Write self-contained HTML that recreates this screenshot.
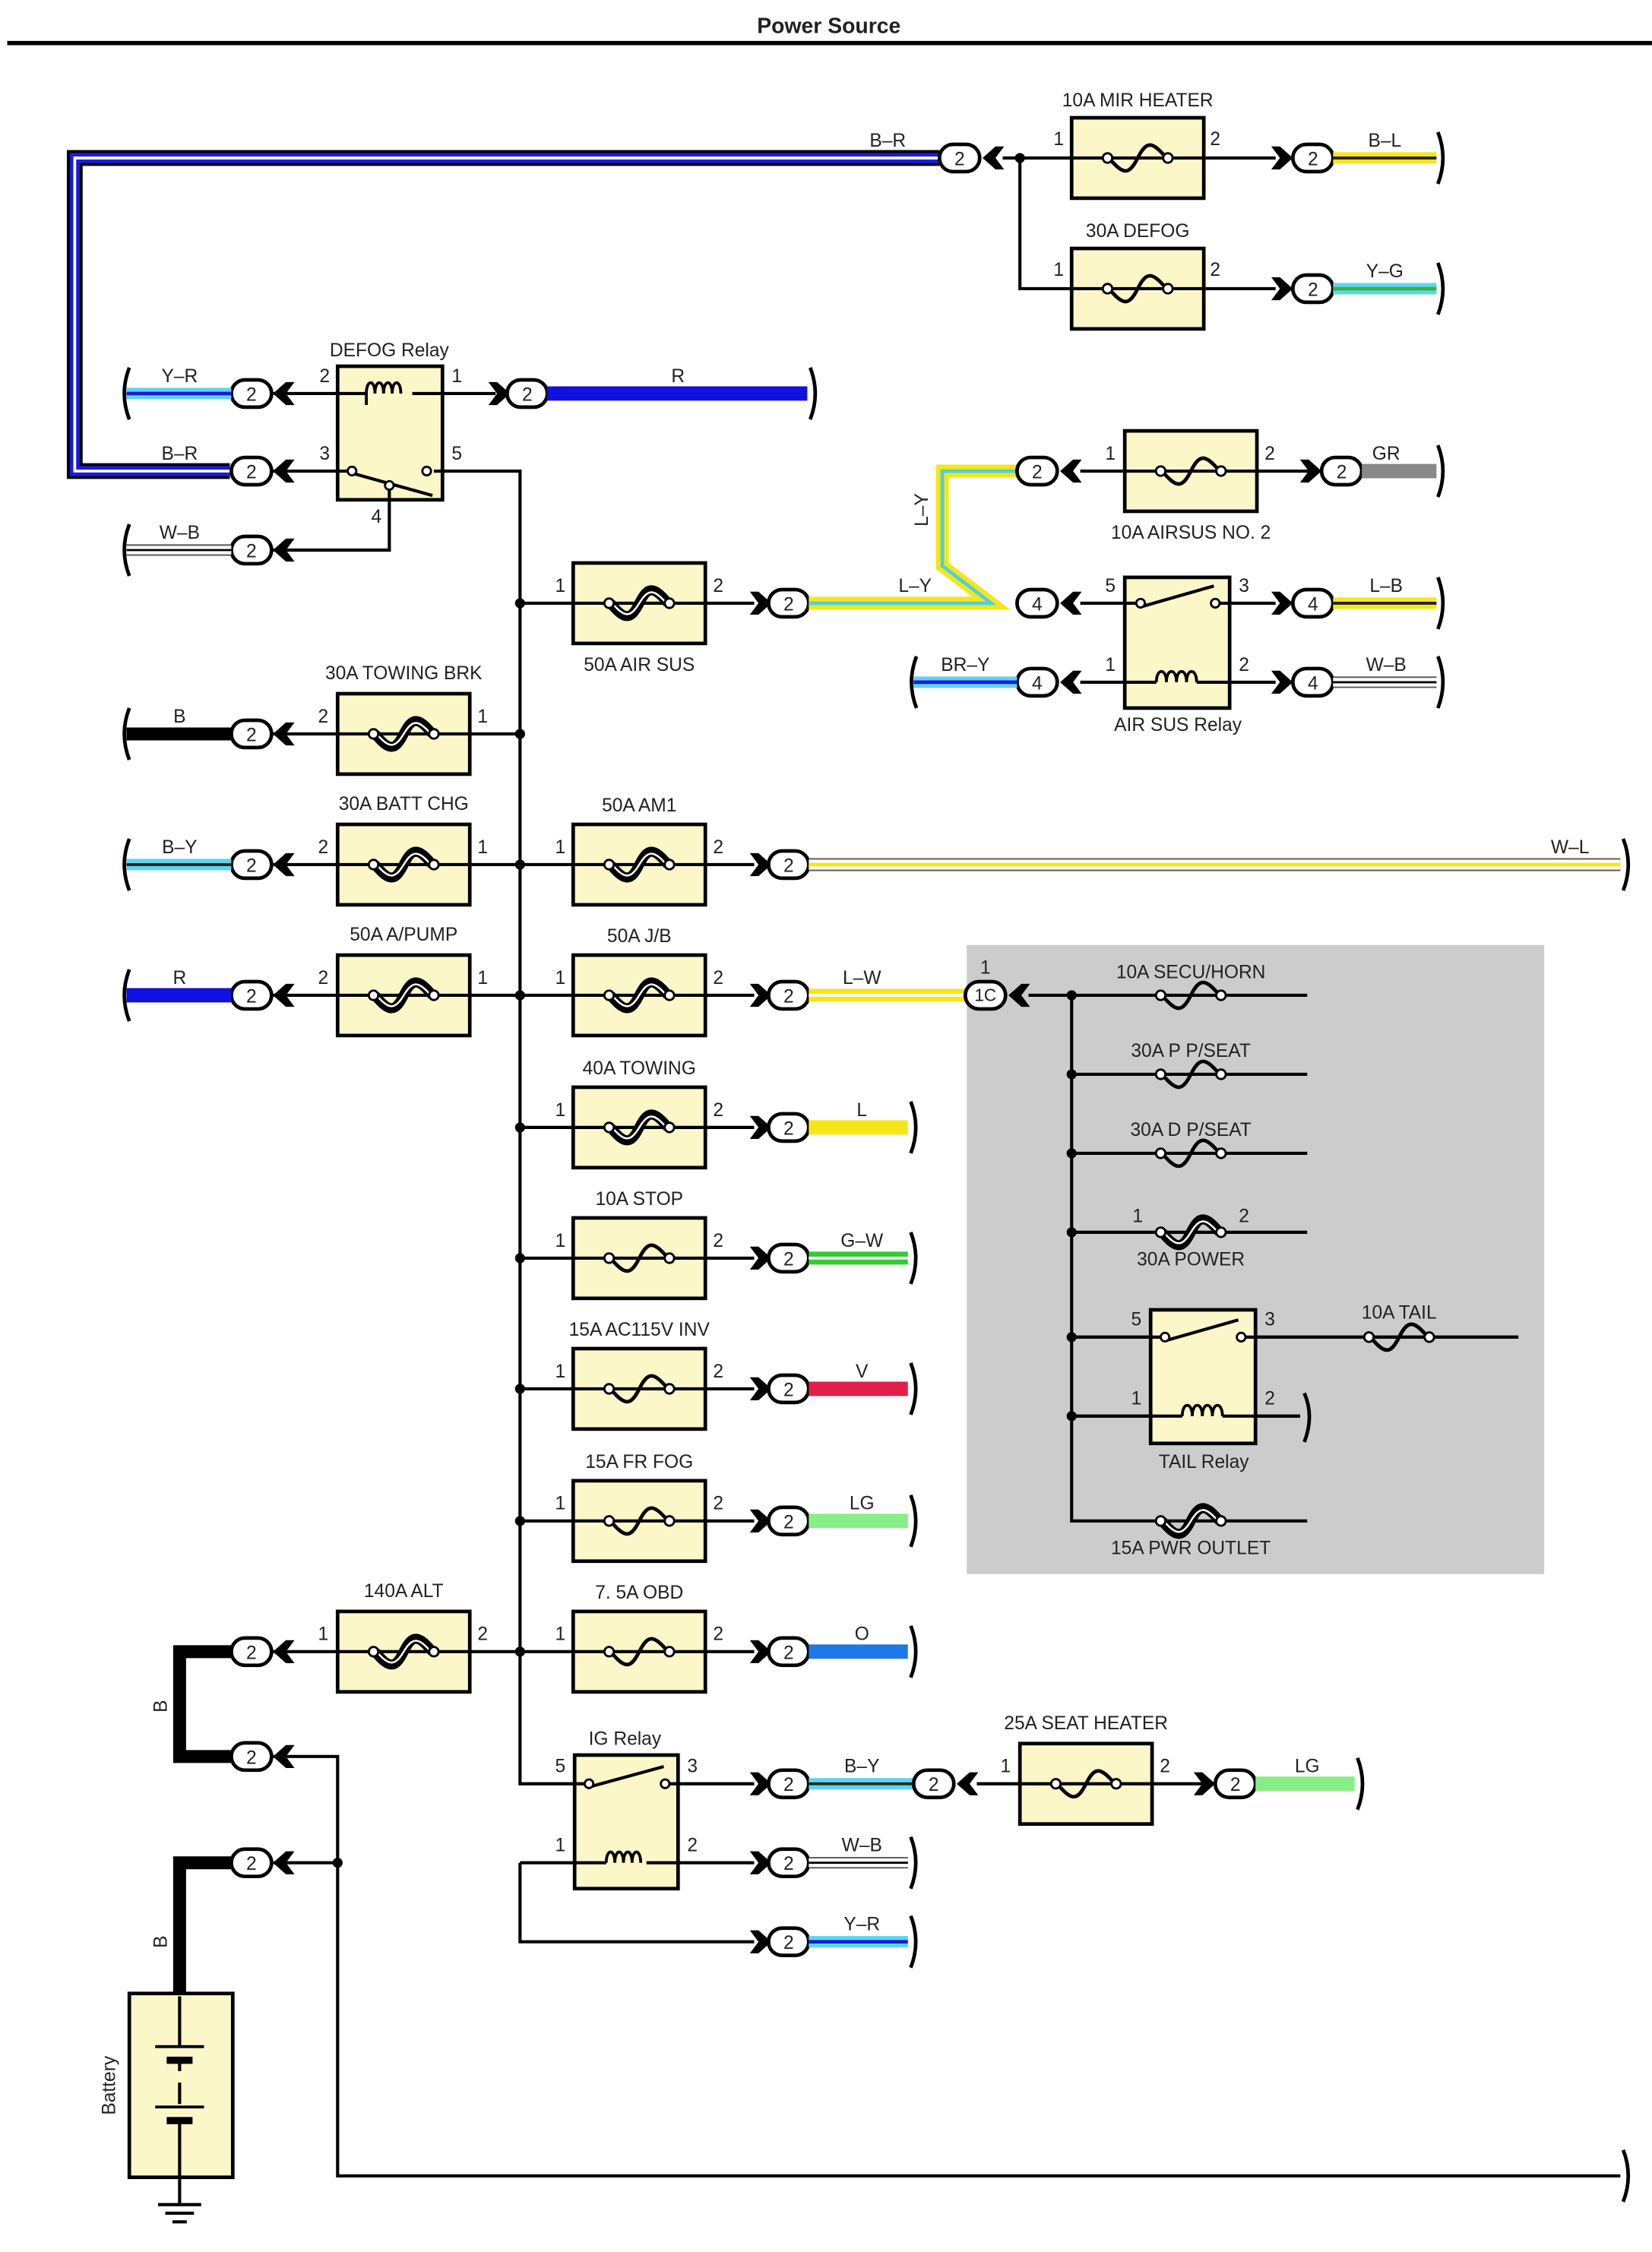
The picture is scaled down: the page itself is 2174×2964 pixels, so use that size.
<!DOCTYPE html>
<html><head><meta charset="utf-8"><style>
html,body{margin:0;padding:0;background:#fff;}
svg{display:block}
text{font-family:"Liberation Sans",sans-serif;font-size:13px;fill:#222;text-anchor:middle}
.ln{stroke:#000;stroke-width:2.2;fill:none}
.brk{stroke:#000;stroke-width:2.5;fill:none}
</style></head><body>
<svg width="2174" height="2964" viewBox="0 0 1150 1568" xmlns="http://www.w3.org/2000/svg">
<defs>
<g id="pill"><rect x="-14" y="-9.5" width="28" height="19" rx="9.5" fill="#fff" stroke="#000" stroke-width="2.5"/></g>
<path id="cl" d="M0,0 L9,-8 L15,-8 L9,0 L15,8 L9,8 Z" fill="#000"/>
<path id="cr" d="M0,0 L-9,-8 L-15,-8 L-9,0 L-15,8 L-9,8 Z" fill="#000"/>
<g id="fs"><path d="M-20,0 C-10,12 -6,12 0,0 C6,-12 10,-12 20,0" stroke="#000" stroke-width="2.5" fill="none"/><circle cx="-21" cy="0" r="3.3" fill="#fff" stroke="#000" stroke-width="1.5"/><circle cx="21" cy="0" r="3.3" fill="#fff" stroke="#000" stroke-width="1.5"/></g>
<g id="fl"><path d="M-20,0 C-10,12 -6,12 0,0 C6,-12 10,-12 20,0" stroke="#000" stroke-width="7" fill="none"/><path d="M-18,1 C-10,10 -6,10 0,0 C6,-10 10,-10 18,-1" stroke="#fff" stroke-width="1.3" fill="none"/><circle cx="-21" cy="0" r="3.3" fill="#fff" stroke="#000" stroke-width="1.5"/><circle cx="21" cy="0" r="3.3" fill="#fff" stroke="#000" stroke-width="1.5"/></g>
<g id="box"><rect x="-46" y="-28" width="92" height="56" fill="#fbf7c8" stroke="#000" stroke-width="2.5"/><line x1="-46" y1="0" x2="46" y2="0" stroke="#000" stroke-width="2.2"/></g>
<g id="bs"><use href="#box"/><use href="#fs"/></g>
<g id="bl"><use href="#box"/><use href="#fl"/></g>
<g id="dot"><circle r="3.5" fill="#000"/></g>
</defs>

<text x="577" y="23" style="font-weight:bold;font-size:15px">Power Source</text>
<line x1="5" y1="30" x2="1150" y2="30" stroke="#000" stroke-width="3"/>

<!-- top B-R long wire -->
<path d="M654,110 H52 V328 H160" stroke="#000" stroke-width="11" fill="none"/>
<path d="M654,110 H52 V328 H160" stroke="#1a1ae0" stroke-width="7" fill="none"/>
<path d="M654,110 H52 V328 H160" stroke="#fff" stroke-width="2" fill="none"/>
<text x="618" y="102">B–R</text>
<use href="#pill" x="668" y="110"/><text x="668" y="115">2</text>
<use href="#cl" x="684" y="110"/>
<path class="ln" d="M698,110 H746 M710,110 V201 H746"/>
<use href="#dot" x="710" y="110"/>
<g transform="translate(792,110)"><use href="#bs"/></g>
<text x="792" y="74">10A MIR HEATER</text><text x="737" y="101">1</text><text x="846" y="101">2</text>
<g transform="translate(792,201)"><use href="#bs"/></g>
<text x="792" y="165">30A DEFOG</text><text x="737" y="192">1</text><text x="846" y="192">2</text>
<path class="ln" d="M838,110 H888 M838,201 H888"/>
<use href="#cr" x="900" y="110"/><use href="#pill" x="914" y="110"/><text x="914" y="115">2</text>
<use href="#cr" x="900" y="201"/><use href="#pill" x="914" y="201"/><text x="914" y="206">2</text>
<path d="M928,110 H1000" stroke="#f5e61a" stroke-width="8"/><path d="M928,110 H1000" stroke="#222" stroke-width="2"/>
<text x="964" y="102">B–L</text><path class="brk" d="M1001,92 Q1008,110 1001,128"/>
<path d="M928,201 H1000" stroke="#5cd6f0" stroke-width="8"/><path d="M928,201 H1000" stroke="#3cb043" stroke-width="2.5"/>
<text x="964" y="193">Y–G</text><path class="brk" d="M1001,183 Q1008,201 1001,219"/>

<!-- DEFOG relay -->
<rect x="235" y="255" width="73" height="93" fill="#fbf7c8" stroke="#000" stroke-width="2.5"/>
<text x="271" y="248">DEFOG Relay</text>
<path class="ln" d="M189,274 H255 M287,274 H345"/>
<path d="M255,274 c0,-10 6,-10 6,0 c0,-10 6,-10 6,0 c0,-10 6,-10 6,0 c0,-10 6,-10 6,0" stroke="#000" stroke-width="2" fill="none"/>
<line x1="255" y1="274" x2="255" y2="282" stroke="#000" stroke-width="2"/>
<path class="ln" d="M189,328 H243 M302,328 H362 V1242 H400"/>
<line x1="247" y1="330" x2="301" y2="345" stroke="#000" stroke-width="2.2"/>
<circle cx="245" cy="328" r="3" fill="#fff" stroke="#000" stroke-width="1.5"/>
<circle cx="297" cy="328" r="3" fill="#fff" stroke="#000" stroke-width="1.5"/>
<circle cx="271" cy="338" r="3" fill="#fff" stroke="#000" stroke-width="1.5"/>
<path class="ln" d="M271,341 V383 H189"/>
<text x="226" y="266">2</text><text x="318" y="266">1</text><text x="226" y="320">3</text><text x="318" y="320">5</text><text x="262" y="364">4</text>
<use href="#cl" x="190" y="274"/><use href="#pill" x="175" y="274"/><text x="175" y="279">2</text>
<use href="#cl" x="190" y="328"/><use href="#pill" x="175" y="328"/><text x="175" y="333">2</text>
<use href="#cl" x="190" y="383"/><use href="#pill" x="175" y="383"/><text x="175" y="388">2</text>
<path d="M88,274 H161" stroke="#5cd6f0" stroke-width="8"/><path d="M88,274 H161" stroke="#1a1ae0" stroke-width="2.5"/>
<text x="125" y="266">Y–R</text><path class="brk" d="M90,256 Q83,274 90,292"/>
<text x="125" y="320">B–R</text>
<path d="M88,383 H161" stroke="#555" stroke-width="8"/><path d="M88,383 H161" stroke="#fff" stroke-width="6"/><path d="M88,383 H161" stroke="#000" stroke-width="1.5"/>
<text x="125" y="375">W–B</text><path class="brk" d="M90,365 Q83,383 90,401"/>
<use href="#cr" x="355" y="274"/><use href="#pill" x="367" y="274"/><text x="367" y="279">2</text>
<path d="M381,274 H562" stroke="#1010e0" stroke-width="10"/><text x="472" y="266">R</text>
<path class="brk" d="M564,256 Q571,274 564,292"/>

<!-- bus dots -->
<use href="#dot" x="362" y="420"/><use href="#dot" x="362" y="511"/><use href="#dot" x="362" y="602"/><use href="#dot" x="362" y="693"/><use href="#dot" x="362" y="785"/><use href="#dot" x="362" y="876"/><use href="#dot" x="362" y="967"/><use href="#dot" x="362" y="1059"/><use href="#dot" x="362" y="1150"/>

<!-- right column fuses -->
<path class="ln" d="M362,420 H525 M362,602 H525 M362,693 H525 M362,785 H525 M362,876 H525 M362,967 H525 M362,1059 H525 M326,1150 H525"/>
<g transform="translate(445,420)"><use href="#bl"/></g><text x="445" y="467">50A AIR SUS</text><text x="390" y="412">1</text><text x="500" y="412">2</text>
<g transform="translate(445,602)"><use href="#bl"/></g><text x="445" y="565">50A AM1</text><text x="390" y="594">1</text><text x="500" y="594">2</text>
<g transform="translate(445,693)"><use href="#bl"/></g><text x="445" y="656">50A J/B</text><text x="390" y="685">1</text><text x="500" y="685">2</text>
<g transform="translate(445,785)"><use href="#bl"/></g><text x="445" y="748">40A TOWING</text><text x="390" y="777">1</text><text x="500" y="777">2</text>
<g transform="translate(445,876)"><use href="#bs"/></g><text x="445" y="839">10A STOP</text><text x="390" y="868">1</text><text x="500" y="868">2</text>
<g transform="translate(445,967)"><use href="#bs"/></g><text x="445" y="930">15A AC115V INV</text><text x="390" y="959">1</text><text x="500" y="959">2</text>
<g transform="translate(445,1059)"><use href="#bs"/></g><text x="445" y="1022">15A FR FOG</text><text x="390" y="1051">1</text><text x="500" y="1051">2</text>
<g transform="translate(445,1150)"><use href="#bs"/></g><text x="445" y="1113">7. 5A OBD</text><text x="390" y="1142">1</text><text x="500" y="1142">2</text>

<g>
<use href="#cr" x="537" y="420"/><use href="#pill" x="549" y="420"/><text x="549" y="425">2</text>
<use href="#cr" x="537" y="602"/><use href="#pill" x="549" y="602"/><text x="549" y="607">2</text>
<use href="#cr" x="537" y="693"/><use href="#pill" x="549" y="693"/><text x="549" y="698">2</text>
<use href="#cr" x="537" y="785"/><use href="#pill" x="549" y="785"/><text x="549" y="790">2</text>
<use href="#cr" x="537" y="876"/><use href="#pill" x="549" y="876"/><text x="549" y="881">2</text>
<use href="#cr" x="537" y="967"/><use href="#pill" x="549" y="967"/><text x="549" y="972">2</text>
<use href="#cr" x="537" y="1059"/><use href="#pill" x="549" y="1059"/><text x="549" y="1064">2</text>
<use href="#cr" x="537" y="1150"/><use href="#pill" x="549" y="1150"/><text x="549" y="1155">2</text>
</g>
<!-- L-Y wire -->
<path d="M563,420 H690 L656,394 V328 H708" stroke="#f5e61a" stroke-width="9" fill="none"/>
<path d="M563,420 H690 L656,394 V328 H708" stroke="#4dd0e1" stroke-width="2.5" fill="none"/>
<text x="637" y="412">L–Y</text>
<text x="0" y="0" transform="translate(646,355) rotate(-90)">L–Y</text>
<!-- W-L -->
<path d="M563,602 H1128" stroke="#555" stroke-width="9"/><path d="M563,602 H1128" stroke="#fff" stroke-width="7"/><path d="M563,602 H1128" stroke="#f5e61a" stroke-width="2.5"/>
<text x="1093" y="594">W–L</text><path class="brk" d="M1130,584 Q1137,602 1130,620"/>
<!-- L-W -->
<path d="M563,693 H672" stroke="#f5e61a" stroke-width="9"/><path d="M563,693 H672" stroke="#fff" stroke-width="2"/>
<text x="600" y="685">L–W</text>
<path d="M563,785 H632" stroke="#f5e61a" stroke-width="10"/><text x="600" y="777">L</text><path class="brk" d="M634,767 Q641,785 634,803"/>
<path d="M563,876 H632" stroke="#33cc33" stroke-width="9"/><path d="M563,876 H632" stroke="#fff" stroke-width="2"/><text x="600" y="868">G–W</text><path class="brk" d="M634,858 Q641,876 634,894"/>
<path d="M563,967 H632" stroke="#e0204a" stroke-width="10"/><text x="600" y="959">V</text><path class="brk" d="M634,949 Q641,967 634,985"/>
<path d="M563,1059 H632" stroke="#88ee88" stroke-width="10"/><text x="600" y="1051">LG</text><path class="brk" d="M634,1041 Q641,1059 634,1077"/>
<path d="M563,1150 H632" stroke="#1e78e6" stroke-width="10"/><text x="600" y="1142">O</text><path class="brk" d="M634,1132 Q641,1150 634,1168"/>

<!-- left column fuses -->
<path class="ln" d="M189,511 H362 M189,602 H362 M189,693 H362 M189,1150 H326"/>
<g transform="translate(281,511)"><use href="#bl"/></g><text x="281" y="473">30A TOWING BRK</text><text x="225" y="503">2</text><text x="336" y="503">1</text>
<g transform="translate(281,602)"><use href="#bl"/></g><text x="281" y="564">30A BATT CHG</text><text x="225" y="594">2</text><text x="336" y="594">1</text>
<g transform="translate(281,693)"><use href="#bl"/></g><text x="281" y="655">50A A/PUMP</text><text x="225" y="685">2</text><text x="336" y="685">1</text>
<g transform="translate(281,1150)"><use href="#bl"/></g><text x="281" y="1112">140A ALT</text><text x="225" y="1142">1</text><text x="336" y="1142">2</text>
<use href="#cl" x="190" y="511"/><use href="#pill" x="175" y="511"/><text x="175" y="516">2</text>
<use href="#cl" x="190" y="602"/><use href="#pill" x="175" y="602"/><text x="175" y="607">2</text>
<use href="#cl" x="190" y="693"/><use href="#pill" x="175" y="693"/><text x="175" y="698">2</text>
<use href="#cl" x="190" y="1150"/><use href="#pill" x="175" y="1150"/><text x="175" y="1155">2</text>
<path d="M88,511 H161" stroke="#000" stroke-width="9"/><text x="125" y="503">B</text><path class="brk" d="M90,493 Q83,511 90,529"/>
<path d="M88,602 H161" stroke="#5cd6f0" stroke-width="8"/><path d="M88,602 H161" stroke="#222" stroke-width="2"/><text x="125" y="594">B–Y</text><path class="brk" d="M90,584 Q83,602 90,620"/>
<path d="M88,693 H161" stroke="#1010e0" stroke-width="10"/><text x="125" y="685">R</text><path class="brk" d="M90,675 Q83,693 90,711"/>

<!-- alt/battery -->
<path d="M161,1150 H125 V1223 H161" stroke="#000" stroke-width="9" fill="none"/>
<text x="0" y="0" transform="translate(116,1188) rotate(-90)">B</text>
<use href="#cl" x="190" y="1223"/><use href="#pill" x="175" y="1223"/><text x="175" y="1228">2</text>
<path class="ln" d="M189,1223 H235 V1515 H1128 M189,1297 H235"/>
<use href="#dot" x="235" y="1297"/>
<path class="brk" d="M1130,1497 Q1137,1515 1130,1533"/>
<use href="#cl" x="190" y="1297"/><use href="#pill" x="175" y="1297"/><text x="175" y="1302">2</text>
<path d="M161,1297 H125 V1390" stroke="#000" stroke-width="9" fill="none"/>
<text x="0" y="0" transform="translate(116,1352) rotate(-90)">B</text>
<rect x="90" y="1388" width="72" height="128" fill="#fbf7c8" stroke="#000" stroke-width="2.5"/>
<text x="0" y="0" transform="translate(80,1452) rotate(-90)">Battery</text>
<path class="ln" d="M125,1390 V1425 M125,1436 V1442 M125,1450 V1465 M125,1476 V1516"/>
<line x1="108" y1="1425" x2="142" y2="1425" stroke="#000" stroke-width="2"/>
<rect x="116" y="1432" width="18" height="5" fill="#000"/>
<line x1="108" y1="1467" x2="142" y2="1467" stroke="#000" stroke-width="2"/>
<rect x="116" y="1474" width="18" height="5" fill="#000"/>
<path class="ln" d="M125,1516 V1535 M110,1535 H140 M115,1541 H135 M120,1547 H130"/>

<!-- IG relay -->
<rect x="400" y="1222" width="72" height="93" fill="#fbf7c8" stroke="#000" stroke-width="2.5"/>
<text x="435" y="1215">IG Relay</text>
<path class="ln" d="M400,1242 H408 M466,1242 H525 M362,1297 H422 M450,1297 H525 M362,1297 V1352 H525"/>
<line x1="411" y1="1244" x2="462" y2="1230" stroke="#000" stroke-width="2.2"/>
<circle cx="410" cy="1242" r="3" fill="#fff" stroke="#000" stroke-width="1.5"/>
<circle cx="463" cy="1242" r="3" fill="#fff" stroke="#000" stroke-width="1.5"/>
<path d="M422,1297 c0,-10 6,-10 6,0 c0,-10 6,-10 6,0 c0,-10 6,-10 6,0 c0,-10 6,-10 6,0" stroke="#000" stroke-width="2" fill="none"/>
<text x="390" y="1234">5</text><text x="482" y="1234">3</text><text x="390" y="1289">1</text><text x="482" y="1289">2</text>
<use href="#cr" x="537" y="1242"/><use href="#pill" x="549" y="1242"/><text x="549" y="1247">2</text>
<use href="#cr" x="537" y="1297"/><use href="#pill" x="549" y="1297"/><text x="549" y="1302">2</text>
<use href="#cr" x="537" y="1352"/><use href="#pill" x="549" y="1352"/><text x="549" y="1357">2</text>
<path d="M563,1242 H636" stroke="#5cd6f0" stroke-width="8"/><path d="M563,1242 H636" stroke="#222" stroke-width="2"/><text x="600" y="1234">B–Y</text>
<use href="#pill" x="650" y="1242"/><text x="650" y="1247">2</text><use href="#cl" x="666" y="1242"/>
<path class="ln" d="M680,1242 H710 M801,1242 H846"/>
<g transform="translate(756,1242)"><use href="#bs"/></g><text x="756" y="1204">25A SEAT HEATER</text><text x="700" y="1234">1</text><text x="811" y="1234">2</text>
<use href="#cr" x="846" y="1242"/><use href="#pill" x="860" y="1242"/><text x="860" y="1247">2</text>
<path d="M874,1242 H943" stroke="#88ee88" stroke-width="10"/><text x="910" y="1234">LG</text><path class="brk" d="M945,1224 Q952,1242 945,1260"/>
<path d="M563,1297 H632" stroke="#555" stroke-width="8"/><path d="M563,1297 H632" stroke="#fff" stroke-width="6"/><path d="M563,1297 H632" stroke="#000" stroke-width="1.5"/>
<text x="600" y="1289">W–B</text><path class="brk" d="M634,1279 Q641,1297 634,1315"/>
<path d="M563,1352 H632" stroke="#5cd6f0" stroke-width="8"/><path d="M563,1352 H632" stroke="#1a1ae0" stroke-width="2.5"/>
<text x="600" y="1344">Y–R</text><path class="brk" d="M634,1334 Q641,1352 634,1370"/>

<!-- AIR SUS relay area -->
<use href="#pill" x="722" y="328"/><text x="722" y="333">2</text><use href="#cl" x="738" y="328"/>
<path class="ln" d="M752,328 H783 M874,328 H920"/>
<g transform="translate(829,328)"><use href="#bs"/></g><text x="829" y="375">10A AIRSUS NO. 2</text><text x="773" y="320">1</text><text x="884" y="320">2</text>
<use href="#cr" x="920" y="328"/><use href="#pill" x="934" y="328"/><text x="934" y="333">2</text>
<path d="M948,328 H1000" stroke="#888" stroke-width="10"/><text x="965" y="320">GR</text><path class="brk" d="M1001,310 Q1008,328 1001,346"/>
<use href="#pill" x="722" y="420"/><text x="722" y="425">4</text><use href="#cl" x="738" y="420"/>
<use href="#pill" x="722" y="475"/><text x="722" y="480">4</text><use href="#cl" x="738" y="475"/>
<rect x="783" y="402" width="73" height="91" fill="#fbf7c8" stroke="#000" stroke-width="2.5"/>
<text x="820" y="509">AIR SUS Relay</text>
<path class="ln" d="M752,420 H793 M848,420 H888 M752,475 H805 M833,475 H888"/>
<line x1="796" y1="422" x2="845" y2="408" stroke="#000" stroke-width="2.2"/>
<circle cx="794" cy="420" r="3" fill="#fff" stroke="#000" stroke-width="1.5"/>
<circle cx="846" cy="420" r="3" fill="#fff" stroke="#000" stroke-width="1.5"/>
<path d="M805,475 c0,-10 7,-10 7,0 c0,-10 7,-10 7,0 c0,-10 7,-10 7,0 c0,-10 7,-10 7,0" stroke="#000" stroke-width="2" fill="none"/>
<text x="773" y="412">5</text><text x="866" y="412">3</text><text x="773" y="467">1</text><text x="866" y="467">2</text>
<use href="#cr" x="900" y="420"/><use href="#pill" x="914" y="420"/><text x="914" y="425">4</text>
<use href="#cr" x="900" y="475"/><use href="#pill" x="914" y="475"/><text x="914" y="480">4</text>
<path d="M928,420 H1000" stroke="#f5e61a" stroke-width="8"/><path d="M928,420 H1000" stroke="#222" stroke-width="2"/><text x="965" y="412">L–B</text><path class="brk" d="M1001,402 Q1008,420 1001,438"/>
<path d="M928,475 H1000" stroke="#555" stroke-width="8"/><path d="M928,475 H1000" stroke="#fff" stroke-width="6"/><path d="M928,475 H1000" stroke="#000" stroke-width="1.5"/><text x="965" y="467">W–B</text><path class="brk" d="M1001,457 Q1008,475 1001,493"/>
<path d="M636,475 H708" stroke="#5cd6f0" stroke-width="8"/><path d="M636,475 H708" stroke="#1a1ae0" stroke-width="2.5"/><text x="672" y="467">BR–Y</text><path class="brk" d="M638,457 Q631,475 638,493"/>

<!-- gray J/B -->
<rect x="673" y="658" width="402" height="438" fill="#cccccc"/>
<use href="#pill" x="686" y="693"/><text x="686" y="697" style="font-size:12px">1C</text><text x="686" y="678">1</text>
<use href="#cl" x="702" y="693"/>
<path class="ln" d="M716,693 H910 M746,693 V1059 H910 M746,748 H910 M746,803 H910 M746,858 H910 M746,931 H808 M866,931 H1057 M746,986 H823 M851,986 H905"/>
<use href="#dot" x="746" y="693"/><use href="#dot" x="746" y="748"/><use href="#dot" x="746" y="803"/><use href="#dot" x="746" y="858"/><use href="#dot" x="746" y="931"/><use href="#dot" x="746" y="986"/>
<g transform="translate(829,693)"><use href="#fs"/></g><text x="829" y="681">10A SECU/HORN</text>
<g transform="translate(829,748)"><use href="#fs"/></g><text x="829" y="736">30A P P/SEAT</text>
<g transform="translate(829,803)"><use href="#fs"/></g><text x="829" y="791">30A D P/SEAT</text>
<g transform="translate(829,858)"><use href="#fl"/></g><text x="829" y="881">30A POWER</text><text x="792" y="851">1</text><text x="866" y="851">2</text>
<g transform="translate(829,1059)"><use href="#fl"/></g><text x="829" y="1082">15A PWR OUTLET</text>
<g transform="translate(974,931)"><use href="#fs"/></g><text x="974" y="918">10A TAIL</text>
<rect x="801" y="912" width="73" height="93" fill="#fbf7c8" stroke="#000" stroke-width="2.5"/>
<text x="838" y="1022">TAIL Relay</text>
<path class="ln" d="M746,931 H810 M864,931 H1057 M746,986 H823 M851,986 H905"/>
<line x1="813" y1="933" x2="862" y2="919" stroke="#000" stroke-width="2.2"/>
<circle cx="811" cy="931" r="3" fill="#fff" stroke="#000" stroke-width="1.5"/>
<circle cx="864" cy="931" r="3" fill="#fff" stroke="#000" stroke-width="1.5"/>
<path d="M823,986 c0,-10 7,-10 7,0 c0,-10 7,-10 7,0 c0,-10 7,-10 7,0 c0,-10 7,-10 7,0" stroke="#000" stroke-width="2" fill="none"/>
<g transform="translate(974,931)"><use href="#fs"/></g>
<text x="791" y="923">5</text><text x="884" y="923">3</text><text x="791" y="978">1</text><text x="884" y="978">2</text>
<path class="brk" d="M908,970 Q915,986 908,1004"/>
</svg>
</body></html>
